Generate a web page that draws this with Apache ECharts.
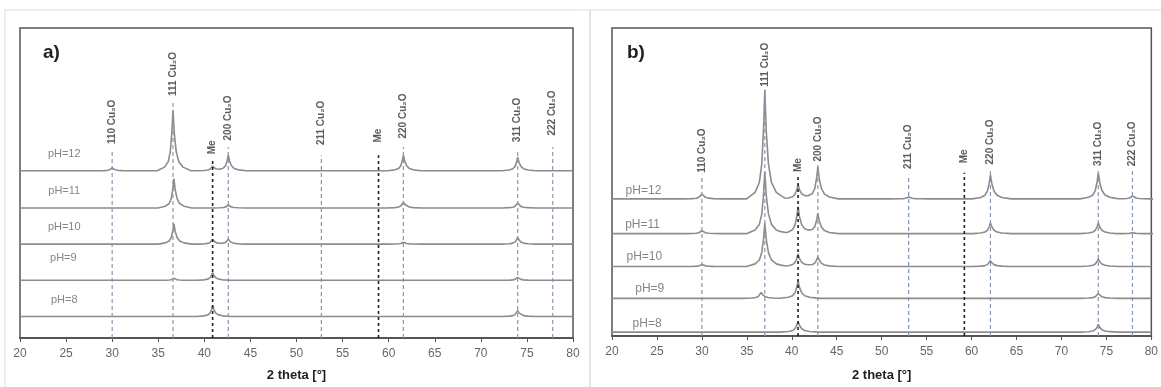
<!DOCTYPE html>
<html><head><meta charset="utf-8">
<script src="https://cdn.jsdelivr.net/npm/echarts@6/dist/echarts.min.js"></script>
<style>html,body{margin:0;padding:0;background:#fff}#c{width:1161px;height:387px}</style>
</head><body><div id="c"></div><script>
// ---------- data ----------
const xTicks = [20, 25, 30, 35, 40, 45, 50, 55, 60, 65, 70, 75, 80];
const pHLabels = ['pH=12', 'pH=11', 'pH=10', 'pH=9', 'pH=8'];
const refLabels = ['110 Cu₂O', '111 Cu₂O', 'Me', '200 Cu₂O', '211 Cu₂O', 'Me', '220 Cu₂O', '311 Cu₂O', '222 Cu₂O'];
const refKind = ['c', 'c', 'm', 'c', 'c', 'm', 'c', 'c', 'c'];
const refPosA = [30.0, 36.6, 40.9, 42.6, 52.7, 58.9, 61.6, 74.0, 77.8];
const refPosB = [30.0, 37.0, 40.7, 42.9, 53.0, 59.2, 62.1, 74.1, 77.9];
// trace offsets (stacking), in a.u.
const offsetA = [171, 133, 96, 59, 22];
const offsetB = [142, 106, 72, 39, 4];
// peaks [2theta, intensity a.u.] per trace, panel a
const peaksA_pH12 = [[30.0, 3], [36.6, 62], [40.9, 5], [42.6, 16], [61.6, 16], [74.0, 14]];
const peaksA_pH11 = [[36.7, 30], [42.6, 3], [61.6, 6], [74.0, 5]];
const peaksA_pH10 = [[36.7, 21], [40.9, 5], [42.6, 5], [61.6, 2], [74.0, 7]];
const peaksA_pH9 = [[36.7, 2], [40.9, 8], [74.0, 3]];
const peaksA_pH8 = [[40.9, 11], [74.0, 6]];
// panel b
const peaksB_pH12 = [[30.0, 5], [37.0, 113], [40.7, 15], [42.9, 33], [53.0, 2], [62.1, 25], [74.1, 27], [77.9, 3]];
const peaksB_pH11 = [[30.0, 3], [37.0, 64], [40.7, 28], [42.9, 21], [62.1, 11], [74.1, 11], [77.9, 1]];
const peaksB_pH10 = [[30.0, 2], [37.0, 45], [40.7, 13], [42.9, 10], [62.1, 6], [74.1, 8]];
const peaksB_pH9 = [[36.6, 6], [40.7, 18], [74.1, 5]];
const peaksB_pH8 = [[40.7, 11], [74.1, 8]];

// ---------- drawing helpers ----------
const peakShape = [[-1.5, 0], [-0.8, 0.06], [-0.45, 0.15], [-0.25, 0.32], [-0.1, 0.65], [0, 1], [0.12, 0.62], [0.3, 0.32], [0.55, 0.15], [0.95, 0.06], [1.7, 0]];
function shapeAt(u) {
  if (u <= peakShape[0][0] || u >= peakShape[peakShape.length - 1][0]) return 0;
  for (let i = 1; i < peakShape.length; i++) {
    const [x1, y1] = peakShape[i], [x0, y0] = peakShape[i - 1];
    if (u <= x1) return y0 + (y1 - y0) * (u - x0) / (x1 - x0);
  }
  return 0;
}
function trace(peaks, base, w) {
  const xs = new Set([xTicks[0], xTicks[xTicks.length - 1]]);
  peaks.forEach(([p]) => peakShape.forEach(([dx]) => xs.add(+(p + dx * w).toFixed(3))));
  return [...xs].sort((a, b) => a - b).map(x => {
    let y = base;
    peaks.forEach(([p, h]) => { y += h * shapeAt((x - p) / w); });
    return [x, y];
  });
}
const tracesA = [peaksA_pH12, peaksA_pH11, peaksA_pH10, peaksA_pH9, peaksA_pH8];
const tracesB = [peaksB_pH12, peaksB_pH11, peaksB_pH10, peaksB_pH9, peaksB_pH8];

// layout (label placement, in axis units)
const refLabelYA = [221, 270, 195, 225, 220, 207, 227, 223, 230];
const refTopA = [193, 241, 184, 195, 187, 187, 195, 190, 195];
const refLabelYB = [192, 281, 177, 204, 196, 186, 201, 199, 199];
const refTopB = [167, 255, 165, 177, 167, 169, 172, 172, 172];
const pHLabXA = [24.8, 24.8, 24.8, 24.7, 24.8];
const pHLabDyA = [17, 17, 18, 23, 17];
const pHLabXB = [23.5, 23.4, 23.6, 24.2, 23.9];
const pHLabDyB = [8, 9, 10, 10, 9];

const FONT = 'Liberation Sans';
const series = [];
function panel(idx, traces, offsets, w, refPos, labY, tops, pX, pDy, pFont) {
  traces.forEach((pk, i) => series.push({
    type: 'line', xAxisIndex: idx, yAxisIndex: idx, data: trace(pk, offsets[i], w),
    showSymbol: false, silent: true, z: 2,
    lineStyle: { color: '#8c8c8c', width: 1.6 }
  }));
  refPos.forEach((x, i) => {
    const me = refKind[i] === 'm';
    series.push({
      type: 'line', xAxisIndex: idx, yAxisIndex: idx, data: [[x, 0], [x, tops[i]]],
      showSymbol: false, silent: true, z: 3,
      lineStyle: me ? { color: '#222', width: 1.6, type: [3, 3] } : { color: '#8499b0', width: 1.2, type: [4, 3] }
    });
  });
  series.push({
    type: 'scatter', xAxisIndex: idx, yAxisIndex: idx, symbolSize: 0, silent: true, z: 4,
    data: refPos.map((x, i) => ({ value: [x, labY[i]], name: refLabels[i] })),
    label: { show: true, position: 'inside', rotate: 90, formatter: p => p.name, align: 'center', verticalAlign: 'middle',
      fontSize: 10, fontWeight: 'bold', color: '#333', fontFamily: FONT }
  });
  series.push({
    type: 'scatter', xAxisIndex: idx, yAxisIndex: idx, symbolSize: 0, silent: true, z: 4,
    data: pHLabels.map((t, i) => ({ value: [pX[i], offsets[i] + pDy[i]], name: t })),
    label: { show: true, position: 'inside', formatter: p => p.name, align: 'center', verticalAlign: 'middle',
      fontSize: pFont, color: '#666', fontFamily: FONT }
  });
}
panel(0, tracesA, offsetA, 1.15, refPosA, refLabelYA, refTopA, pHLabXA, pHLabDyA, 11);
panel(1, tracesB, offsetB, 1.35, refPosB, refLabelYB, refTopB, pHLabXB, pHLabDyB, 12);

function xAxis(gi, gap) {
  return {
    gridIndex: gi, type: 'value', min: xTicks[0], max: xTicks[xTicks.length - 1], interval: xTicks[1] - xTicks[0],
    splitLine: { show: false },
    axisLine: { lineStyle: { color: '#555', width: 2 } },
    axisTick: { length: 4, lineStyle: { color: '#555' } },
    axisLabel: { color: '#666', fontSize: 12, margin: 10, fontFamily: FONT },
    name: '2 theta [°]', nameLocation: 'middle', nameGap: gap,
    nameTextStyle: { fontWeight: 'bold', fontSize: 13, color: '#222', fontFamily: FONT }
  };
}
const chart = echarts.init(document.getElementById('c'), null, { renderer: 'canvas' });
chart.setOption({
  animation: false,
  backgroundColor: '#fff',
  title: [
    { text: 'a)', left: 38, top: 38, textStyle: { fontSize: 19, fontWeight: 'bold', color: '#222', fontFamily: FONT } },
    { text: 'b)', left: 622, top: 38, textStyle: { fontSize: 19, fontWeight: 'bold', color: '#222', fontFamily: FONT } }
  ],
  graphic: [
    { type: 'line', shape: { x1: 4, y1: 10, x2: 1161, y2: 10 }, style: { stroke: '#ddd', lineWidth: 1 } },
    { type: 'line', shape: { x1: 5, y1: 10, x2: 5, y2: 387 }, style: { stroke: '#ddd', lineWidth: 1 } },
    { type: 'line', shape: { x1: 590, y1: 10, x2: 590, y2: 387 }, style: { stroke: '#ccc', lineWidth: 1 } }
  ],
  grid: [
    { left: 20, top: 28, width: 553, height: 317, show: true, borderColor: '#555', borderWidth: 1.5 },
    { left: 612, top: 28, width: 543, height: 319, show: true, borderColor: '#555', borderWidth: 1.5 }
  ],
  xAxis: [xAxis(0, 31), xAxis(1, 33)],
  yAxis: [
    { gridIndex: 0, type: 'value', min: 0, max: 317, show: false, splitLine: { show: false } },
    { gridIndex: 1, type: 'value', min: 0, max: 319, show: false, splitLine: { show: false } }
  ],
  series
});
</script></body></html>
